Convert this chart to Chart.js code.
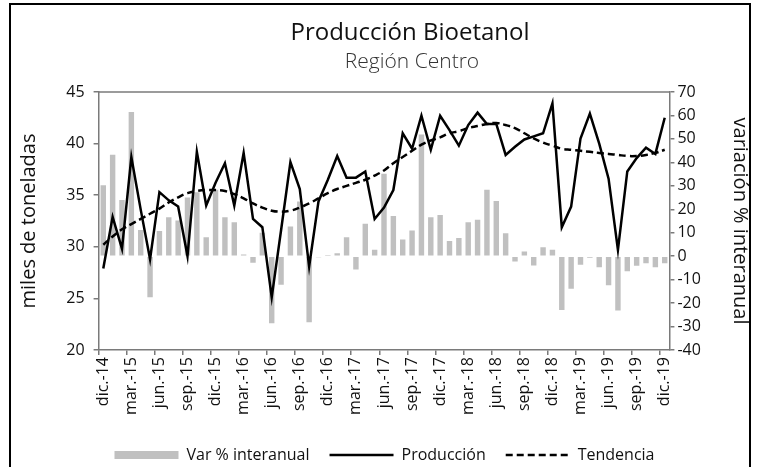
<!DOCTYPE html>
<html>
<head>
<meta charset="utf-8">
<script src="https://cdn.jsdelivr.net/npm/chart.js@4.4.1/dist/chart.umd.min.js"></script>
<style>
  html, body { margin: 0; padding: 0; background: #fff; }
  #wrap { position: relative; width: 758px; height: 467px; overflow: hidden; }
  #marco { position: absolute; left: 9px; top: 3px; width: 742px; height: 480px; border: 2px solid #000; box-sizing: border-box; }
  canvas { position: absolute; left: 0; top: 0; }
</style>
</head>
<body>
<div id="wrap">
  <div id="marco"></div>
  <canvas id="grafico" width="758" height="467"></canvas>
</div>
<script>
// meses desde dic.-14 hasta dic.-19
const meses = ['ene.', 'feb.', 'mar.', 'abr.', 'may.', 'jun.', 'jul.', 'ago.', 'sep.', 'oct.', 'nov.', 'dic.'];
const etiquetas = [];
for (let k = 0; k < 61; k++) {
  etiquetas.push(meses[(11 + k) % 12] + '-' + (14 + Math.floor((11 + k) / 12)));
}

// miles de toneladas
const produccion = [
  27.9, 32.9, 29.8, 38.7, 33.6, 28.8, 35.3, 34.5, 33.9, 29.1,
  39.2, 34.0, 36.2, 38.1, 34.0, 39.1, 32.7, 31.9, 25.1, 31.6,
  38.2, 35.6, 28.1, 34.4, 36.5, 38.8, 36.7, 36.7, 37.3, 32.7,
  33.8, 35.5, 41.0, 39.5, 42.7, 39.4, 42.7, 41.3, 39.8, 41.8,
  43.0, 41.9, 41.9, 38.9, 39.7, 40.4, 40.7, 41.0, 43.9, 31.9,
  33.9, 40.5, 42.9, 40.0, 36.6, 29.7, 37.3, 38.6, 39.6, 39.0,
  42.5
];

const tendencia = [
  30.2, 31.0, 31.7, 32.2, 32.7, 33.2, 33.7, 34.3, 34.8, 35.2,
  35.4, 35.5, 35.5, 35.4, 35.1, 34.7, 34.2, 33.8, 33.5, 33.4,
  33.5, 33.8, 34.2, 34.7, 35.2, 35.6, 35.9, 36.2, 36.5, 36.9,
  37.4, 38.1, 38.7, 39.3, 39.9, 40.3, 40.6, 41.0, 41.2, 41.5,
  41.7, 41.9, 42.0, 41.8, 41.5, 41.0, 40.5, 40.1, 39.8, 39.5,
  39.4, 39.3, 39.2, 39.1, 39.0, 38.9, 38.8, 38.8, 38.9, 39.1,
  39.4
];

// variación % interanual (eje derecho)
const variacion = [
  30.2, 43.2, 24.0, 61.5, 11.2, -17.5, 10.7, 16.6, 15.2, 25.0,
  27.3, 8.1, 28.3, 16.6, 14.5, 0.7, -2.8, 10.0, -28.6, -12.2,
  12.7, 23.3, -28.2, -0.5, 0.5, 1.3, 8.1, -5.7, 13.8, 2.7,
  35.1, 17.1, 7.1, 11.0, 51.9, 16.6, 17.6, 6.5, 7.7, 14.5,
  15.5, 28.3, 23.5, 9.8, -2.3, 2.0, -4.0, 3.8, 2.7, -22.9,
  -13.9, -3.6, -0.7, -4.7, -12.4, -23.2, -6.4, -4.1, -3.0, -4.7,
  -3.0
];

const fuente = '"Open Sans", Lato, sans-serif';
const gris = '#7a7a7a';
Chart.defaults.font.family = fuente;
Chart.defaults.color = '#111';

// titulo y linea superior del area de grafico
const extras = {
  id: 'extras',
  beforeDatasetsDraw(chart) {
    const a = chart.chartArea, c = chart.ctx;
    c.save();
    c.strokeStyle = gris;
    c.lineWidth = 1.5;
    c.beginPath();
    c.moveTo(a.left, a.top);
    c.lineTo(a.right, a.top);
    c.stroke();
    c.restore();
  },
  afterDraw(chart) {
    const c = chart.ctx;
    c.save();
    c.textAlign = 'center';
    c.textBaseline = 'middle';
    c.fillStyle = '#111';
    c.font = '24px ' + fuente;
    c.fillText('Producción Bioetanol', 410, 33);
    c.fillStyle = '#333';
    c.font = '300 21px ' + fuente;
    c.fillText('Región Centro', 412, 62);
    c.restore();
  }
};

new Chart(document.getElementById('grafico'), {
  type: 'bar',
  data: {
    labels: etiquetas,
    datasets: [
      {
        label: 'Var % interanual',
        data: variacion,
        yAxisID: 'y1',
        backgroundColor: '#c0c0c0',
        borderWidth: 0,
        pointStyle: 'rect',
        categoryPercentage: 1,
        barPercentage: 0.58,
        order: 2
      },
      {
        type: 'line',
        label: 'Producción',
        data: produccion,
        yAxisID: 'y',
        borderColor: '#000',
        backgroundColor: '#000',
        borderWidth: 2.5,
        pointRadius: 0,
        pointStyle: 'line',
        tension: 0,
        order: 1
      },
      {
        type: 'line',
        label: 'Tendencia',
        data: tendencia,
        yAxisID: 'y',
        borderColor: '#000',
        backgroundColor: '#000',
        borderWidth: 2.5,
        borderDash: [7, 4],
        pointRadius: 0,
        pointStyle: 'line',
        tension: 0.4,
        order: 1
      }
    ]
  },
  options: {
    responsive: false,
    animation: false,
    devicePixelRatio: 1,
    layout: { padding: { top: 92, left: 14, right: 3, bottom: -6 } },
    plugins: {
      legend: {
        position: 'bottom',
        labels: {
          usePointStyle: true,
          pointStyleWidth: 64,
          boxHeight: 8,
          padding: 20,
          color: '#111',
          font: { size: 16 },
          sort: (a, b) => a.datasetIndex - b.datasetIndex,
          generateLabels(chart) {
            const items = Chart.defaults.plugins.legend.labels.generateLabels(chart);
            items.forEach(it => {
              const ds = chart.data.datasets[it.datasetIndex];
              if (ds.type === 'line') {
                it.lineWidth = 2.5;
                it.lineDash = ds.borderDash || [];
                it.strokeStyle = '#000';
              }
            });
            return items;
          }
        }
      },
      tooltip: { enabled: false }
    },
    scales: {
      x: {
        offset: true,
        grid: {
          offset: true,
          drawOnChartArea: false,
          tickLength: 5,
          lineWidth: 1.5,
          color: ctx => (ctx.index % 3 === 0 ? gris : 'rgba(0,0,0,0)')
        },
        border: { color: gris, width: 1.5 },
        ticks: {
          autoSkip: false,
          minRotation: 90,
          maxRotation: 90,
          padding: 2,
          font: { size: 16 },
          callback: (v, i) => (i % 3 === 0 ? etiquetas[i] : '')
        },
        afterFit: s => { s.height = 77; }
      },
      y: {
        position: 'left',
        min: 20,
        max: 45,
        grid: { drawOnChartArea: false, tickLength: 5, color: gris, lineWidth: 1.5 },
        border: { color: gris, width: 1.5 },
        ticks: { stepSize: 5, padding: 9, font: { size: 16 } },
        title: { display: true, text: 'miles de toneladas', font: { size: 20 }, padding: { top: 3, bottom: 0 } },
        afterFit: s => { s.width = 84.6; }
      },
      y1: {
        position: 'right',
        min: -40,
        max: 70,
        grid: { drawOnChartArea: false, tickLength: 5, color: gris, lineWidth: 1.5 },
        border: { color: gris, width: 1.5 },
        ticks: { stepSize: 10, padding: 3, font: { size: 16 } },
        title: { display: true, text: 'variación % interanual', font: { size: 20 }, padding: { top: 3, bottom: 0 } },
        afterFit: s => { s.width = 85.6; }
      }
    }
  },
  plugins: [extras]
});
</script>
</body>
</html>
